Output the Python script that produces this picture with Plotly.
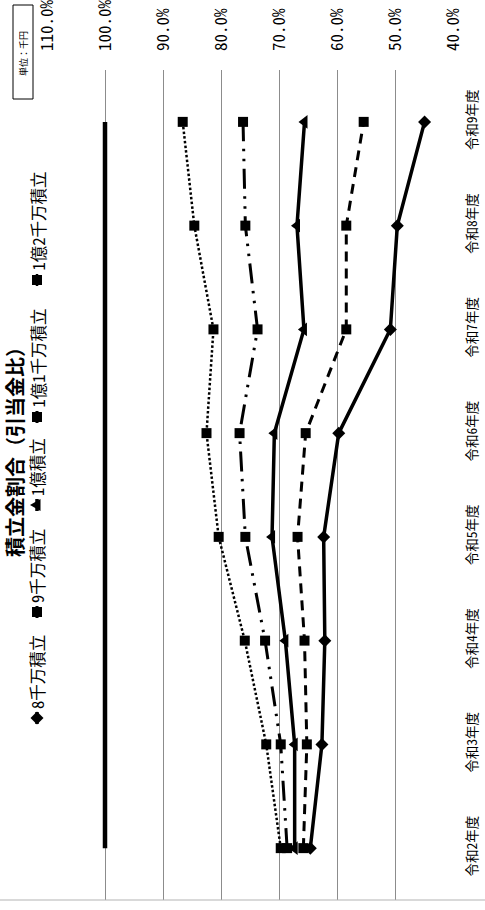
import plotly.graph_objects as go

# ---- data -------------------------------------------------------------
categories = ["令和2年度", "令和3年度", "令和4年度", "令和5年度",
              "令和6年度", "令和7年度", "令和8年度", "令和9年度"]

series_names = ["8千万積立", "9千万積立", "1億積立", "1億1千万積立", "1億2千万積立"]

ratio_8000 = [64.6, 62.6, 62.1, 62.3, 59.7, 50.8, 49.6, 44.9]
ratio_9000 = [65.8, 65.2, 65.6, 66.8, 65.4, 58.4, 58.4, 55.4]
ratio_10000 = [67.3, 67.3, 68.9, 71.2, 70.8, 65.7, 66.9, 65.6]
ratio_11000 = [68.6, 69.7, 72.4, 75.8, 76.8, 73.7, 75.8, 76.2]
ratio_12000 = [69.7, 72.2, 75.9, 80.4, 82.5, 81.3, 84.6, 86.6]
ratio_full = [100.0, 100.0, 100.0, 100.0, 100.0, 100.0, 100.0, 100.0]

tick_vals = [110, 100, 90, 80, 70, 60, 50, 40]
tick_text = ["110.0%", "100.0%", "90.0%", "80.0%", "70.0%", "60.0%", "50.0%", "40.0%"]

title_text = "積立金割合（引当金比）"
unit_text = "単位：千円"

# ---- styling ----------------------------------------------------------
W, H = 485, 910
M_L, M_R, M_T, M_B = 46, 31, 70, 10
PLOT_W = W - M_L - M_R
PLOT_H = H - M_T - M_B

MONO = "Noto Sans Mono CJK JP, Noto Sans CJK JP, Liberation Mono, monospace"
CJK = "Noto Sans Mono CJK JP, Noto Sans CJK JP, sans-serif"

# marker outlines (pixel offsets) used for the legend glyphs
GLYPHS = {
    "diamond": "M-6.5,0 L0,6.5 L6.5,0 L0,-6.5 Z",
    "square": "M-5,-5 L5,-5 L5,5 L-5,5 Z",
    "triangle-left": "M-7,0 L3.5,-6 L3.5,6 Z",
}

series_values = [ratio_8000, ratio_9000, ratio_10000, ratio_11000, ratio_12000]
series_styles = [
    dict(symbol="diamond", msize=10, dash="solid", width=3.5),
    dict(symbol="square", msize=10, dash="10px,7px", width=3),
    dict(symbol="triangle-left", msize=12, dash="solid", width=3.5),
    dict(symbol="square", msize=10, dash="20px,7.5px,2.5px,7.5px,2.5px,7.5px", width=3),
    dict(symbol="square", msize=10, dash="2.5px,2.2px", width=2.5),
]


def px_x(px):
    """figure pixel x -> paper x"""
    return (px - M_L) / PLOT_W


def px_y(py):
    """figure pixel y (from top) -> paper y"""
    return (H - M_B - py) / PLOT_H


fig = go.Figure()

# 100% reference line
fig.add_trace(go.Scatter(
    x=ratio_full, y=categories, mode="lines", name="100%",
    line=dict(color="black", width=4.5), showlegend=False,
))

for name, vals, st in zip(series_names, series_values, series_styles):
    fig.add_trace(go.Scatter(
        x=vals, y=categories, mode="lines+markers", name=name,
        line=dict(color="black", width=st["width"], dash=st["dash"]),
        marker=dict(symbol=st["symbol"], size=st["msize"], color="black",
                    line=dict(width=0)),
        showlegend=False,
    ))

# ---- hand-built vertical legend --------------------------------------
legend_x = 37
legend_marker_y = [718, 612, 505, 417, 280]
shapes = []
annotations = []
for name, st, my in zip(series_names, series_styles, legend_marker_y):
    shapes.append(dict(
        type="line", xref="paper", yref="paper",
        x0=px_x(legend_x), x1=px_x(legend_x),
        y0=px_y(my - 6), y1=px_y(my + 6),
        line=dict(color="black", width=st["width"]),
    ))
    shapes.append(dict(
        type="path", xref="paper", yref="paper",
        xsizemode="pixel", ysizemode="pixel",
        xanchor=px_x(legend_x), yanchor=px_y(my),
        path=GLYPHS[st["symbol"]],
        fillcolor="black", line=dict(width=0),
    ))
    annotations.append(dict(
        text=name, xref="paper", yref="paper",
        x=px_x(legend_x), y=px_y(my - 7),
        xanchor="center", yanchor="bottom", textangle=-90, showarrow=False,
        font=dict(family=CJK, size=16.5, color="black"),
    ))

# title
annotations.append(dict(
    text="<b>" + title_text + "</b>", xref="paper", yref="paper",
    x=px_x(14), y=px_y(447), xanchor="center", yanchor="middle",
    textangle=-90, showarrow=False, borderpad=0,
    font=dict(family="Noto Sans CJK JP, sans-serif", size=20, color="black"),
))

# unit box
shapes.append(dict(
    type="rect", xref="paper", yref="paper",
    x0=px_x(13), x1=px_x(33), y0=px_y(99), y1=px_y(5),
    line=dict(color="black", width=1), fillcolor="white", layer="above",
))
annotations.append(dict(
    text=unit_text, xref="paper", yref="paper",
    x=px_x(23), y=px_y(54), xanchor="center", yanchor="middle",
    textangle=-90, showarrow=False,
    font=dict(family=CJK, size=9, color="black"),
))

# frame line along the bottom edge
shapes.append(dict(
    type="line", xref="paper", yref="paper",
    x0=px_x(0), x1=px_x(W), y0=px_y(900), y1=px_y(900),
    line=dict(color="#b4b4b4", width=1.2),
))

fig.update_layout(
    width=W, height=H, template="none",
    margin=dict(l=M_L, r=M_R, t=M_T, b=M_B),
    paper_bgcolor="white", plot_bgcolor="white",
    showlegend=False,
    xaxis=dict(
        range=[110 + 1 / 5.8, 40 - 1 / 5.8], side="top",
        tickvals=tick_vals, ticktext=tick_text, tickangle=-90,
        tickfont=dict(family=MONO, size=17, color="black"),
        showgrid=True, gridcolor="#8c8c8c", gridwidth=1,
        zeroline=False, showline=False, ticks="", ticklabelstandoff=18,
        automargin=False, fixedrange=True,
    ),
    yaxis=dict(
        type="category", categoryorder="array", categoryarray=categories,
        range=[-0.5, 7.5], side="right", tickangle=-90,
        tickfont=dict(family=CJK, size=13.5, color="black"),
        showgrid=False, zeroline=False, showline=False, ticks="",
        ticklabelstandoff=8, automargin=False, fixedrange=True,
    ),
    shapes=shapes,
    annotations=annotations,
)

fig.write_html("out.html")
